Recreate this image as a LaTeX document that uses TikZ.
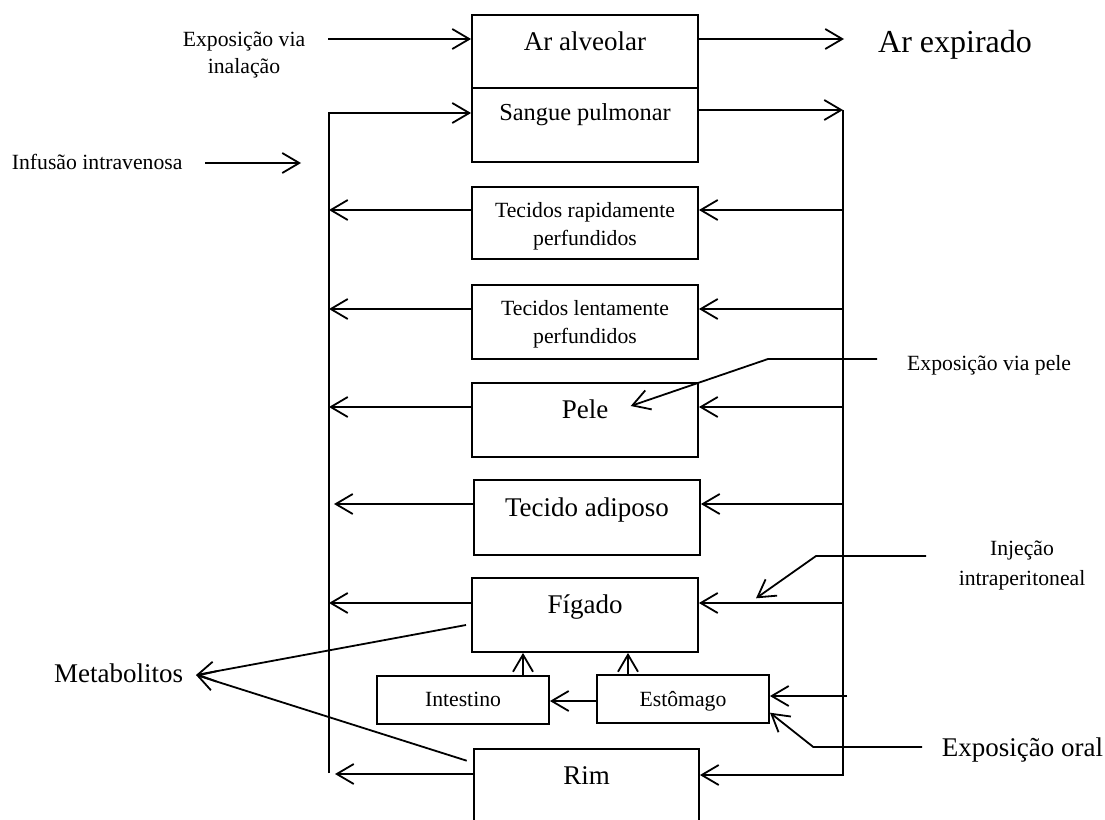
\documentclass[tikz,border=0pt]{standalone}
\usepackage{fontspec}
\setmainfont{Liberation Serif}
\usetikzlibrary{arrows.meta}
\begin{document}
\begin{tikzpicture}[x=1pt,y=-1pt,
  box/.style={draw, line width=1.9pt, inner sep=0pt, minimum width=226pt, minimum height=#1},
  box/.default=74pt,
  small/.style={font=\fontsize{21.7}{28}\selectfont, inner sep=0pt},
  mid/.style={font=\fontsize{24.4}{30}\selectfont, inner sep=0pt},
  big/.style={font=\fontsize{27}{32}\selectfont, inner sep=0pt},
  xbig/.style={font=\fontsize{32}{38}\selectfont, inner sep=0pt},
  arr/.style={line width=1.8pt, -{Straight Barb[length=17pt,width=20pt]}},
  ln/.style={line width=1.8pt}]
\path[use as bounding box, clip] (0,0) rectangle (1105,819);

% boxes
\node[box=73pt] (aa) at (585,51.5) {};
\node[box=74pt] (sp) at (585,125) {};
\node[box=72pt] (trp) at (585,223) {};
\node[box=74pt] (tlp) at (585,322) {};
\node[box=74pt] (pele) at (585,420) {};
\node[box=75pt] (adip) at (587,517.5) {};
\node[box=74pt] (fig) at (585,615) {};
\node[box=48pt, minimum width=172pt] (int) at (463,700) {};
\node[box=48pt, minimum width=172pt] (est) at (683,699) {};
\node[box=100pt, minimum width=225pt] (rim) at (586.5,799) {};

% box texts
\node[big, anchor=base] (taa) at (585,50) {Ar alveolar};
\node[mid, anchor=base] (tsp) at (585,120) {Sangue pulmonar};
\node[small, align=center] (ttrp) at (585,226) {Tecidos rapidamente\\perfundidos};
\node[small, align=center] (ttlp) at (585,324) {Tecidos lentamente\\perfundidos};
\node[big, anchor=base] (tpele) at (585,418) {Pele};
\node[big, anchor=base] (tadip) at (587,516) {Tecido adiposo};
\node[big, anchor=base] (tfig) at (585,613) {Fígado};
\node[small, anchor=base] (tint) at (463,706.7) {Intestino};
\node[small, anchor=base] (test) at (683,706) {Estômago};
\node[big, anchor=base] (trim) at (586.5,784) {Rim};

% outer labels
\node[small, align=center, font=\fontsize{21.7}{27}\selectfont] (inal) at (244,54.5) {Exposição via\\inalação};
\node[small, anchor=base west] (ivl) at (11.7,169) {Infusão intravenosa};
\node[xbig, anchor=base west] (expir) at (878,52.7) {Ar expirado};
\node[small, anchor=base west] (pelelab) at (907,370) {Exposição via pele};
\node[small, align=center, font=\fontsize{21.7}{30}\selectfont] (ip) at (1022,565) {Injeção\\intraperitoneal};
\node[big, anchor=base west] (met) at (54,682) {Metabolitos};
\node[big, anchor=base west] (oral) at (941.7,756.7) {Exposição oral};

% top connectors
\coordinate (inS) at (328,39);
\draw[arr] (inS) -- (inS -| aa.west);
\coordinate (exE) at (844,39);
\draw[arr] (exE -| aa.east) -- (exE);
\coordinate (ivS) at (205,163);
\coordinate (ivE) at (301,163);
\draw[arr] (ivS) -- (ivE);

% buses
\coordinate (Ltop) at (329,113);
\coordinate (Lbot) at (329,773);
\draw[arr] (Lbot) -- (Ltop) -- (Ltop -| sp.west);
\coordinate (Rtop) at (843,110);
\coordinate (Rbot) at (843,775);
\draw[arr] (Rtop -| sp.east) -- (Rtop);
\draw[arr] (Rtop) -- (Rbot) -- (Rbot -| rim.east);

% organ levels
\foreach \n/\y in {trp/210, tlp/309, pele/407, fig/603}{
  \coordinate (L\n) at (329,\y);
  \coordinate (R\n) at (843,\y);
  \draw[arr] (\n.west |- L\n) -- (L\n);
  \draw[arr] (R\n) -- (\n.east |- R\n);
}
\coordinate (Ladip) at (334,504);
\coordinate (Radip) at (843,504);
\draw[arr] (adip.west |- Ladip) -- (Ladip);
\draw[arr] (Radip) -- (adip.east |- Radip);
\coordinate (Lrim) at (335,774);
\draw[arr] (rim.west |- Lrim) -- (Lrim);
\coordinate (Rest) at (847,696);
\draw[arr] (Rest) -- (est.east |- Rest);

% gut
\coordinate (iu) at (523,0);
\draw[arr] (int.north -| iu) -- (fig.south -| iu);
\coordinate (eu) at (628,0);
\draw[arr] (est.north -| eu) -- (fig.south -| eu);
\coordinate (ei) at (0,701);
\draw[arr] (est.west |- ei) -- (int.east |- ei);

% exposures
\coordinate (pA) at (877,359);
\coordinate (pB) at (768,359);
\coordinate (pC) at (630.7,406);
\draw[arr] (pA) -- (pB) -- (pC);
\coordinate (jA) at (926,556);
\coordinate (jB) at (816,556);
\coordinate (jC) at (756,598.3);
\draw[arr] (jA) -- (jB) -- (jC);
\coordinate (oA) at (922,747);
\coordinate (oB) at (813.3,747);
\coordinate (oC) at (770,712.7);
\draw[arr] (oA) -- (oB) -- (oC);

% metabolites
\coordinate (mT) at (196,675);
\coordinate (mF) at (466,625);
\coordinate (mR) at (466.7,760.7);
\draw[arr] (mF) -- (mT);
\draw[arr] (mR) -- (mT);
\end{tikzpicture}
\end{document}
